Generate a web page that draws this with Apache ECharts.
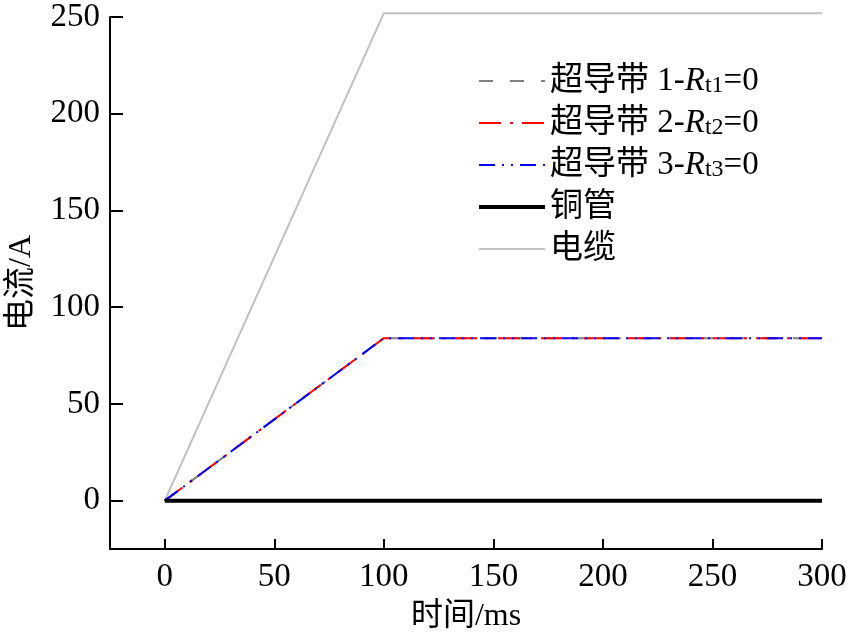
<!DOCTYPE html>
<html><head><meta charset="utf-8">
<script src="https://cdn.jsdelivr.net/npm/echarts@6/dist/echarts.min.js"></script>
<style>html,body{margin:0;padding:0;background:#fff}#c{width:851px;height:635px}</style>
</head><body><div id="c"></div>
<script>
const time = [0, 100, 300];
const tape1 = [0, 84, 84];
const tape2 = [0, 84, 84];
const tape3 = [0, 84, 84];
const copper = [0, 0, 0];
const cable = [0, 252, 252];
const seriesNames = ['超导带 1', '超导带 2', '超导带 3', '铜管', '电缆'];
const subs = ['t1', 't2', 't3'];

const FONT = '"Liberation Serif", "Noto Sans CJK SC", serif';
const pairs = arr => time.map((t, i) => [t, arr[i]]);
const chart = echarts.init(document.getElementById('c'));
const hideOdd = v => (v % 50 === 0 ? String(v) : '');
chart.setOption({
  animation: false,
  grid: { left: 110, right: 29, top: 17, bottom: 86, containLabel: false, outerBoundsMode: 'none' },
  xAxis: {
    type: 'value', min: -25, max: 300, splitNumber: 6,
    name: '时间/ms', nameLocation: 'middle', nameGap: 52,
    nameTextStyle: { fontFamily: FONT, fontSize: 32, color: '#000' },
    axisLine: { show: true, onZero: false, lineStyle: { color: '#000', width: 2 } },
    axisTick: { show: true, inside: true, length: 10, lineStyle: { color: '#000', width: 2 } },
    axisLabel: { formatter: hideOdd, fontFamily: FONT, fontSize: 33, color: '#000', margin: 12 },
    splitLine: { show: false }
  },
  yAxis: {
    type: 'value', min: -25, max: 250, splitNumber: 5,
    name: '电流/A', nameLocation: 'middle', nameGap: 72,
    nameTextStyle: { fontFamily: FONT, fontSize: 32, color: '#000' },
    axisLine: { show: true, onZero: false, lineStyle: { color: '#000', width: 2 } },
    axisTick: { show: true, inside: true, length: 13, lineStyle: { color: '#000', width: 2 } },
    axisLabel: { formatter: hideOdd, fontFamily: FONT, fontSize: 33, color: '#000', margin: 10 },
    splitLine: { show: false }
  },
  legend: {
    orient: 'vertical', left: 472, top: 59, itemWidth: 66, itemHeight: 14, itemGap: 8,
    itemStyle: { opacity: 0 },
    data: seriesNames.map((n, i) => (i === 3 ? { name: n, lineStyle: { width: 4 } } : { name: n })),
    formatter: function (name) {
      const idx = seriesNames.indexOf(name);
      if (idx < 3) return name + '-{i|R}{s|' + subs[idx] + '}=0';
      return name;
    },
    textStyle: {
      fontFamily: FONT, fontSize: 33, color: '#000', lineHeight: 34,
      rich: {
        i: { fontFamily: FONT, fontSize: 33, fontStyle: 'italic', color: '#000', lineHeight: 34 },
        s: { fontFamily: FONT, fontSize: 24, color: '#000', lineHeight: 18, padding: [10, 0, 0, 0], verticalAlign: 'bottom' }
      }
    }
  },
  series: [
    { name: seriesNames[0], type: 'line', data: pairs(tape1), symbol: 'none', z: 3,
      itemStyle: { color: '#808080' },
      lineStyle: { color: '#808080', width: 2, type: [14, 17] } },
    { name: seriesNames[1], type: 'line', data: pairs(tape2), symbol: 'none', z: 4,
      itemStyle: { color: '#ff0000' },
      lineStyle: { color: '#ff0000', width: 2, type: [22, 9, 3, 9] } },
    { name: seriesNames[2], type: 'line', data: pairs(tape3), symbol: 'none', z: 5,
      itemStyle: { color: '#0000ff' },
      lineStyle: { color: '#0000ff', width: 2, type: [16, 7, 2, 7, 2, 7] } },
    { name: seriesNames[3], type: 'line', data: pairs(copper), symbol: 'none', z: 6,
      itemStyle: { color: '#000' },
      lineStyle: { color: '#000', width: 4 } },
    { name: seriesNames[4], type: 'line', data: pairs(cable), symbol: 'none', z: 2, clip: false,
      itemStyle: { color: '#c0c0c0' },
      lineStyle: { color: '#c0c0c0', width: 2 } }
  ]
});
</script></body></html>
